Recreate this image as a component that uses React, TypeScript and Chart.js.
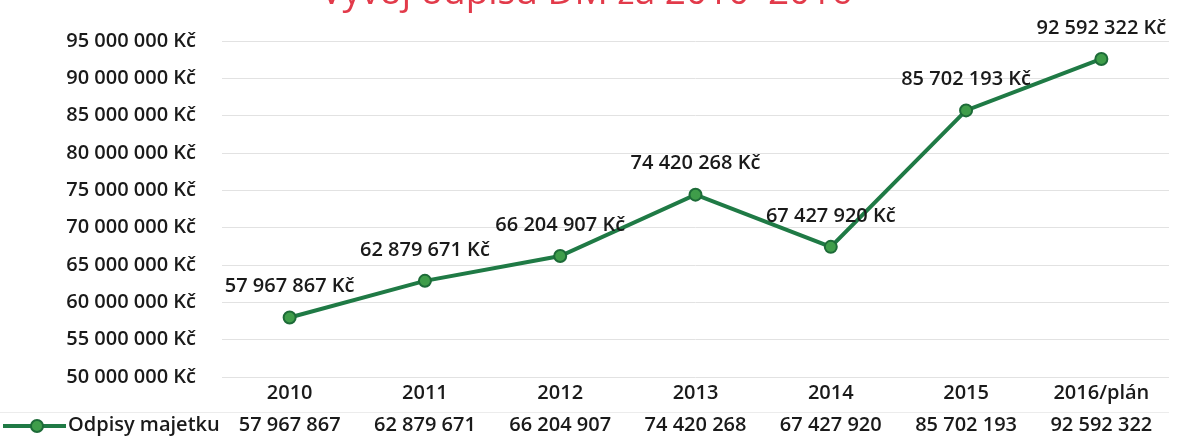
import React, { useEffect, useRef } from 'react';
import { Chart, registerables } from 'chart.js';

Chart.register(...registerables);

const TITLE = 'Vývoj odpisů DM za 2010–2016';
const SERIES_LABEL = 'Odpisy majetku';
const CATEGORIES = ['2010', '2011', '2012', '2013', '2014', '2015', '2016/plán'];
const VALUES = [57967867, 62879671, 66204907, 74420268, 67427920, 85702193, 92592322];
const Y_MIN = 50000000;
const Y_MAX = 95000000;
const Y_STEP = 5000000;

const FONT = "'Open Sans', 'Noto Sans', sans-serif";
const LINE_COLOR = '#1f7a45';
const POINT_FILL = '#3f9d4a';
const POINT_BORDER = '#1d6b38';
const TEXT_COLOR = '#1a1a1a';

const fmt = (n: number) => Math.round(n).toString().replace(/\B(?=(\d{3})+(?!\d))/g, ' ');

const dataLabelPlugin = {
  id: 'dataLabels',
  afterDatasetsDraw(chart: any) {
    const ctx = chart.ctx;
    const meta = chart.getDatasetMeta(0);
    const ds = chart.data.datasets[0];
    ctx.save();
    ctx.font = `600 20px ${FONT}`;
    ctx.fillStyle = TEXT_COLOR;
    ctx.textAlign = 'center';
    ctx.textBaseline = 'middle';
    meta.data.forEach((pt: any, i: number) => {
      ctx.fillText(fmt(ds.data[i]) + ' Kč', pt.x, pt.y - 31);
    });
    ctx.restore();
  },
};

const tableLegendPlugin = {
  id: 'tableLegend',
  afterDraw(chart: any) {
    const ctx = chart.ctx;
    const area = chart.chartArea;
    const ds = chart.data.datasets[0];
    ctx.save();
    // faint row separator of the data table
    ctx.strokeStyle = '#ececec';
    ctx.lineWidth = 1;
    ctx.beginPath();
    ctx.moveTo(0, area.bottom + 35.5);
    ctx.lineTo(area.right, area.bottom + 35.5);
    ctx.stroke();
    // legend key
    const y = area.bottom + 49;
    ctx.strokeStyle = ds.borderColor;
    ctx.lineWidth = 4;
    ctx.beginPath();
    ctx.moveTo(3, y);
    ctx.lineTo(66, y);
    ctx.stroke();
    ctx.beginPath();
    ctx.arc(37, y, 6, 0, Math.PI * 2);
    ctx.fillStyle = ds.pointBackgroundColor;
    ctx.fill();
    ctx.lineWidth = 2;
    ctx.strokeStyle = ds.pointBorderColor;
    ctx.stroke();
    ctx.font = `600 20px ${FONT}`;
    ctx.fillStyle = TEXT_COLOR;
    ctx.textAlign = 'left';
    ctx.textBaseline = 'middle';
    ctx.fillText(ds.label, 68, area.bottom + 48);
    ctx.restore();
  },
};

export default function App() {
  const canvasRef = useRef<HTMLCanvasElement | null>(null);

  useEffect(() => {
    if (!canvasRef.current) return;
    const chart = new Chart(canvasRef.current, {
      type: 'line',
      data: {
        labels: CATEGORIES,
        datasets: [
          {
            label: SERIES_LABEL,
            data: VALUES,
            borderColor: LINE_COLOR,
            borderWidth: 4,
            pointRadius: 6,
            pointBackgroundColor: POINT_FILL,
            pointBorderColor: POINT_BORDER,
            pointBorderWidth: 2,
            tension: 0,
          },
        ],
      },
      options: {
        responsive: false,
        animation: false,
        layout: { padding: { left: 0, right: 4, top: 0, bottom: 0 } },
        plugins: {
          legend: { display: false },
          tooltip: { enabled: false },
          title: {
            display: true,
            text: TITLE,
            color: '#e23a4a',
            font: { family: FONT, size: 37, weight: 'normal', lineHeight: 1.2 },
            padding: { top: 1, bottom: 25.6 },
          },
        },
        scales: {
          x: {
            type: 'category',
            offset: true,
            grid: { display: false, drawTicks: false },
            border: { display: false },
            ticks: {
              autoSkip: false,
              maxRotation: 0,
              minRotation: 0,
              padding: 0,
              color: TEXT_COLOR,
              font: { family: FONT, size: 20, weight: '600', lineHeight: 1.6 },
              callback: (_v: any, i: number) => [CATEGORIES[i], fmt(VALUES[i])],
            },
            afterFit: (scale: any) => {
              scale.height = 64;
            },
          },
          y: {
            min: Y_MIN,
            max: Y_MAX,
            grid: { color: '#e2e2e2', lineWidth: 1, drawTicks: false },
            border: { display: false },
            ticks: {
              stepSize: Y_STEP,
              padding: 26,
              color: TEXT_COLOR,
              font: { family: FONT, size: 20, weight: '600' },
              callback: (v: any) => fmt(Number(v)) + ' Kč',
            },
            afterFit: (scale: any) => {
              scale.width = 222;
            },
          },
        },
      },
      plugins: [dataLabelPlugin, tableLegendPlugin],
    });
    return () => chart.destroy();
  }, []);

  return (
    <div style={{ position: 'fixed', left: 0, top: -30, width: 1177, height: 471, background: '#fff' }}>
      <canvas ref={canvasRef} width={1177} height={471} style={{ display: 'block' }} />
    </div>
  );
}
